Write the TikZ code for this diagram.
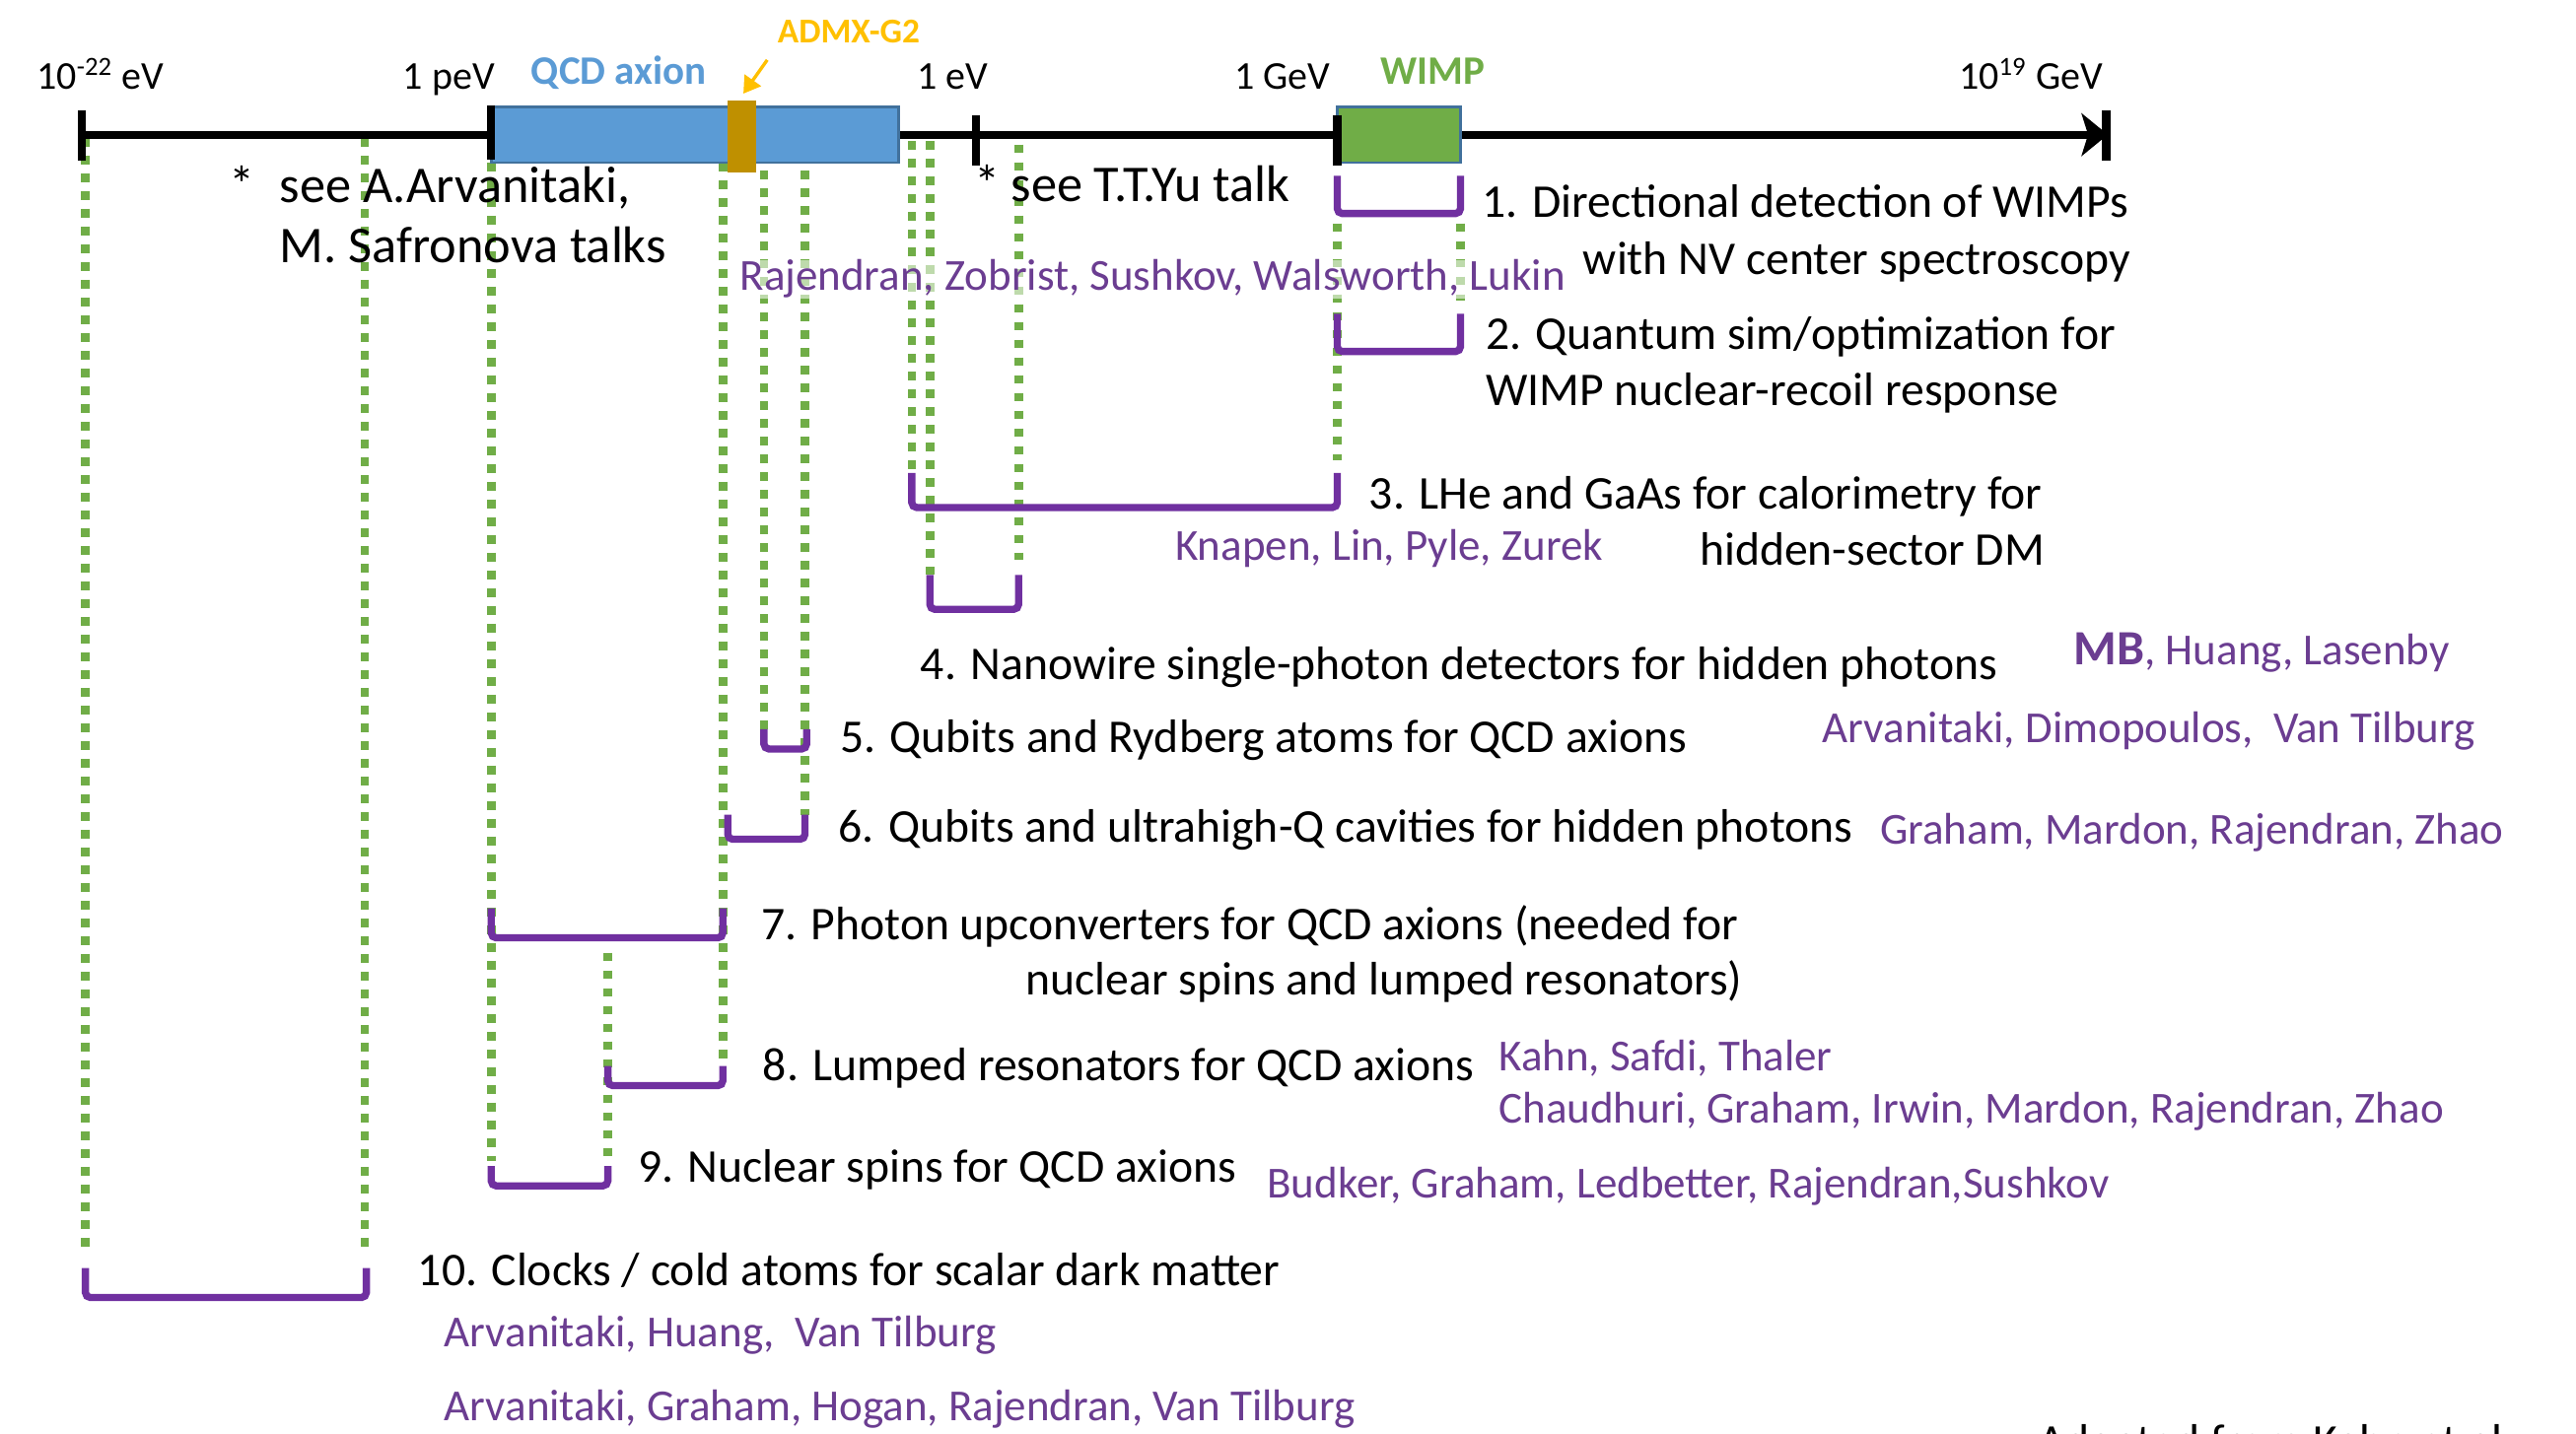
\documentclass[tikz,border=0pt]{standalone}
\usepackage{fontspec}
\setmainfont{Carlito}
\usetikzlibrary{arrows.meta}
\definecolor{axblue}{HTML}{5B9BD5}
\definecolor{boxedge}{HTML}{41719C}
\definecolor{admxgold}{HTML}{BF9000}
\definecolor{admxtext}{HTML}{FFC000}
\definecolor{wimpgreen}{HTML}{70AD47}
\definecolor{brkpurple}{HTML}{7030A0}
\definecolor{namepurple}{HTML}{6B3D91}
\begin{document}
\begin{tikzpicture}[x=0.5pt,y=-0.5pt,
  toplabel/.style={anchor=base west,inner sep=0pt,font=\fontsize{12}{14}\selectfont},
  boldlabel/.style={anchor=base west,inner sep=0pt,font=\fontsize{12.3}{14}\selectfont\bfseries},
  itemtxt/.style={anchor=base west,inner sep=0pt,font=\fontsize{14.3}{17}\selectfont},
  itemtxtr/.style={itemtxt,anchor=base east},
  seetxt/.style={anchor=base west,inner sep=0pt,font=\fontsize{15.7}{18}\selectfont},
  names/.style={anchor=base west,inner sep=0pt,text=namepurple,font=\fontsize{13.5}{16}\selectfont},
  guide/.style={draw=wimpgreen,line width=2.6pt,dash pattern=on 2.6pt off 2.8pt},
  bracket/.style={draw=brkpurple,line width=2.2pt,rounded corners=1.5pt},
  axisline/.style={line width=2.4pt},
  tickmark/.style={line width=2.5pt},
  admxarrow/.style={draw=admxtext,line width=1pt,-{Triangle[length=5pt,width=6pt]}},
]
\useasboundingbox[fill=white] (0,0) rectangle (1568,873);

% green dotted guide lines
\foreach \x/\a/\b in {52/84/761, 222/84/761, 299/99/707, 370/580/706, 440/99/646,
  465/104/444, 490/104/496, 555/86/288, 566/86/350, 620/88/341, 814/136/280, 889/136/183}
  \draw[guide] (\x,\a) -- (\x,\b);

% axis
\draw[axisline,-{Stealth[length=8pt,width=13pt,inset=2pt]}] (50,82) -- (1283,82);
\filldraw[fill=axblue,draw=boxedge,line width=0.8pt] (299,65) rectangle (547,99);
\fill[admxgold] (443,61) rectangle (460,105);
\filldraw[fill=wimpgreen,draw=boxedge,line width=0.8pt] (814,65) rectangle (889,99);
\foreach \x/\a/\b in {50/67/98, 299/64/97, 594/70/101, 814/70/101, 1282/67/98}
  \draw[tickmark] (\x,\a) -- (\x,\b);

% top labels
\node[toplabel] (lab1) at (22,54.4) {10\textsuperscript{-22} eV};
\node[toplabel] (lab2) at (245,54.4) {1 peV};
\node[boldlabel,text=axblue] (lab3) at (323,51.6) {QCD axion};
\node[boldlabel,text=admxtext,font=\fontsize{10.6}{12}\selectfont\bfseries] (lab4) at (473,26) {ADMX-G2};
\node[toplabel] (lab5) at (558,54.4) {1 eV};
\node[toplabel] (lab6) at (751,54.4) {1 GeV};
\node[boldlabel,text=wimpgreen] (lab7) at (840,51.4) {WIMP};
\node[toplabel] (lab8) at (1192,54.4) {10\textsuperscript{19} GeV};
\coordinate (admxfrom) at (467,36.5);
\coordinate (admxtip) at (452.5,57);
\draw[admxarrow] (admxfrom) -- (admxtip);

% brackets
\draw[bracket] (814,107) -- (814,130) -- (889,130) -- (889,107);
\draw[bracket] (814,191) -- (814,214) -- (889,214) -- (889,191);
\draw[bracket] (555,288) -- (555,309) -- (814,309) -- (814,288);
\draw[bracket] (566,350) -- (566,371) -- (620,371) -- (620,350);
\draw[bracket] (465,444) -- (465,456) -- (491,456) -- (491,444);
\draw[bracket] (443,496) -- (443,511) -- (490,511) -- (490,496);
\draw[bracket] (299,553) -- (299,571) -- (440,571) -- (440,553);
\draw[bracket] (370,649) -- (370,661) -- (440,661) -- (440,649);
\draw[bracket] (299,710) -- (299,722) -- (370,722) -- (370,710);
\draw[bracket] (52,772) -- (52,790) -- (223,790) -- (223,772);

% talk notes
\node[seetxt] (ast1) at (139,123.6) {*};
\node[seetxt] (see1) at (170,123.6) {see A.Arvanitaki,};
\node[seetxt] (see2) at (170,160) {M. Safronova talks};
\node[seetxt] (ast2) at (593,123) {*};
\node[seetxt] (see3) at (615,123) {see T.T.Yu talk};

% items
\node[itemtxt] (i1a) at (902,132.4) {1. Directional detection of WIMPs};
\node[itemtxtr] (i1b) at (1297,167) {with NV center spectroscopy};
\node[itemtxt] (i2a) at (904,213) {2. Quantum sim/optimization for};
\node[itemtxt] (i2b) at (904,247) {WIMP nuclear-recoil response};
\node[itemtxt] (i3a) at (833,310) {3. LHe and GaAs for calorimetry for};
\node[itemtxtr] (i3b) at (1245,344) {hidden-sector DM};
\node[itemtxt] (i4) at (560,414) {4. Nanowire single-photon detectors for hidden photons};
\node[itemtxt] (i5) at (511,458) {5. Qubits and Rydberg atoms for QCD axions};
\node[itemtxt] (i6) at (510,513) {6. Qubits and ultrahigh-Q cavities for hidden photons};
\node[itemtxt] (i7a) at (463,572) {7. Photon upconverters for QCD axions (needed for};
\node[itemtxtr] (i7b) at (1061,606) {nuclear spins and lumped resonators)};
\node[itemtxt] (i8) at (464,658) {8. Lumped resonators for QCD axions};
\node[itemtxt] (i9) at (388,720) {9. Nuclear spins for QCD axions};
\node[itemtxt] (i10) at (254,783) {10. Clocks / cold atoms for scalar dark matter};

% names
\node[names,fill=white,fill opacity=0.55,text opacity=1] (n1) at (450,177) {Rajendran, Zobrist, Sushkov, Walsworth, Lukin};
\node[names] (n3) at (715,341) {Knapen, Lin, Pyle, Zurek};
\node[names] (n4) at (1262,405) {{\fontsize{15}{16}\selectfont\bfseries MB}, Huang, Lasenby};
\node[names] (n5) at (1109,452) {Arvanitaki, Dimopoulos,\ \ Van Tilburg};
\node[names] (n6) at (1144,514) {Graham, Mardon, Rajendran, Zhao};
\node[names] (n8a) at (912,652) {Kahn, Safdi, Thaler};
\node[names] (n8b) at (912,683.5) {Chaudhuri, Graham, Irwin, Mardon, Rajendran, Zhao};
\node[names] (n9) at (771,729.5) {Budker, Graham, Ledbetter, Rajendran,Sushkov};
\node[names] (n10a) at (270,820) {Arvanitaki, Huang,\ \ Van Tilburg};
\node[names] (n10b) at (270,865) {Arvanitaki, Graham, Hogan, Rajendran, Van Tilburg};

\begin{scope}
\clip (0,0) rectangle (1568,873);
\node[itemtxt] (adapted) at (1240,887) {Adapted from Kahn et al.};
\end{scope}
\end{tikzpicture}
\end{document}
